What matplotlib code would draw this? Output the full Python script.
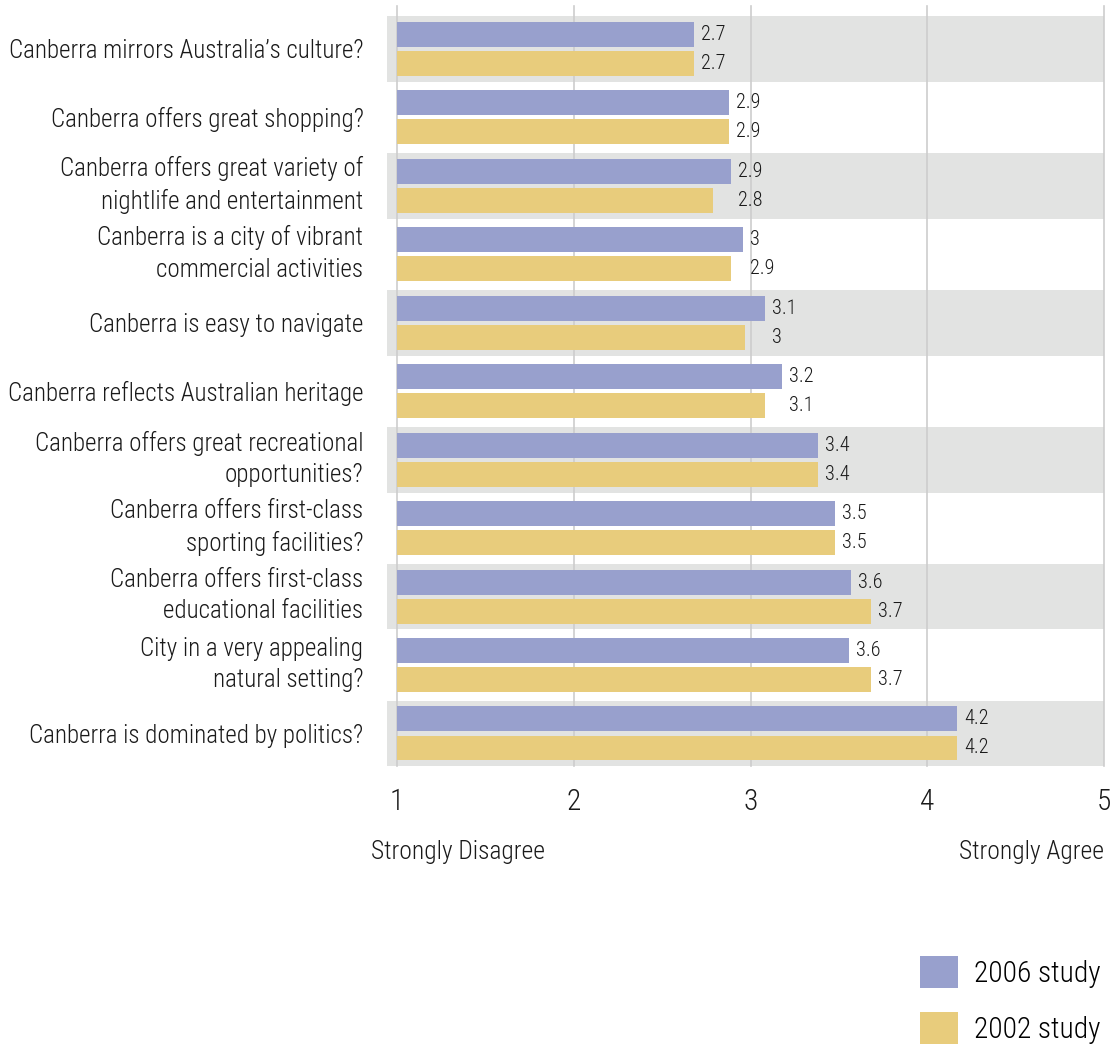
import numpy as np
import matplotlib
matplotlib.use("Agg")
import matplotlib.pyplot as plt
from matplotlib.patches import Patch
from matplotlib.transforms import ScaledTranslation
import matplotlib.font_manager as fm

# 优先使用窄体字体
_installed = {f.name for f in fm.fontManager.ttflist}
_fams = [f for f in ['Liberation Sans Narrow', 'Roboto Condensed', 'DejaVu Sans'] if f in _installed]
plt.rcParams['font.family'] = _fams
plt.rcParams['font.stretch'] = 'condensed'
plt.rcParams['font.weight'] = 'light'

# 数据
questions = [
    "Canberra mirrors Australia\u2019s culture?",
    "Canberra offers great shopping?",
    "Canberra offers great variety of\nnightlife and entertainment",
    "Canberra is a city of vibrant\ncommercial activities",
    "Canberra is easy to navigate",
    "Canberra reflects Australian heritage",
    "Canberra offers great recreational\nopportunities?",
    "Canberra offers first-class\nsporting facilities?",
    "Canberra offers first-class\neducational facilities",
    "City in a very appealing\nnatural setting?",
    "Canberra is dominated by politics?",
]
study_2006 = [2.68, 2.88, 2.89, 2.96, 3.08, 3.18, 3.38, 3.48, 3.57, 3.56, 4.17]
study_2002 = [2.68, 2.88, 2.79, 2.89, 2.97, 3.08, 3.38, 3.48, 3.68, 3.68, 4.17]
scale_ticks = [1, 2, 3, 4, 5]
series_names = ["2006 study", "2002 study"]

BLUE = '#98a0cd'
YELLOW = '#e8cc7c'
BAND = '#e2e3e2'
GRID = '#cdcdcd'
TEXT = '#1a1a1a'


def fmt(v):
    return f"{v:.1f}".rstrip('0').rstrip('.')


fig = plt.figure(figsize=(11.13, 10.54), dpi=100)


def fit_size(s, px, base=20.0):
    """按目标像素宽度换算字号"""
    t = fig.text(0, 0, s, fontsize=base)
    w = t.get_window_extent(renderer=fig.canvas.get_renderer()).width
    t.remove()
    return base * px / w


fs_cat = fit_size(questions[0], 353)
fs_val = fit_size("2.7", 22) * 1.12
fs_axis = fit_size("Strongly Disagree", 174)
fs_leg = fit_size(series_names[0], 127)

ax = fig.add_axes([387 / 1113, 1 - 766 / 1054, (1104 - 387) / 1113, (766 - 6) / 1054])

y = np.arange(len(questions))
h = 0.365
off = 0.212

# 交替灰色背景
for i in y[::2]:
    ax.axhspan(i - 0.48, i + 0.48, color=BAND, lw=0, zorder=0)

ax.barh(y - off, np.array(study_2006) - 1, left=1, height=h, color=BLUE, zorder=2)
ax.barh(y + off, np.array(study_2002) - 1, left=1, height=h, color=YELLOW, zorder=2)

# 数值标签
for i in y:
    a, b = study_2006[i], study_2002[i]
    ax.annotate(fmt(a), (a, i - off), xytext=(5, 0), textcoords='offset points',
                va='center', ha='left', fontsize=fs_val, color=TEXT)
    ax.annotate(fmt(b), (max(a, b), i + off), xytext=(5, 0), textcoords='offset points',
                va='center', ha='left', fontsize=fs_val, color=TEXT)

ax.set_xlim(1 - 10 / 176.75, 5)
ax.set_ylim(10.475, -0.628)
ax.set_xticks(scale_ticks)
ax.set_xticklabels([str(t) for t in scale_ticks])
ax.set_yticks(y)
ax.set_yticklabels(questions, fontsize=fs_cat, color=TEXT, linespacing=1.38)
ax.tick_params(axis='y', length=0, pad=17)
ax.tick_params(axis='x', length=0, pad=16, labelsize=fs_axis * 1.15, colors=TEXT)
for s in ax.spines.values():
    s.set_visible(False)
ax.xaxis.grid(True, color=GRID, lw=1.2, zorder=1)
for gl in ax.get_xgridlines():
    gl.set_clip_on(False)
ax.set_axisbelow(True)

# 两行标签略微上移
for lbl in ax.get_yticklabels():
    if '\n' in lbl.get_text():
        lbl.set_transform(lbl.get_transform() + ScaledTranslation(0, 5 / 72, fig.dpi_scale_trans))

fig.text(371 / 1113, 1 - 852 / 1054, "Strongly Disagree", ha='left', va='center',
         fontsize=fs_axis, color=TEXT)
fig.text(1104 / 1113, 1 - 852 / 1054, "Strongly Agree", ha='right', va='center',
         fontsize=fs_axis, color=TEXT)

handles = [Patch(facecolor=BLUE, edgecolor='none'), Patch(facecolor=YELLOW, edgecolor='none')]
sq = 38 / (fs_leg * 100 / 72)
fig.legend(handles, series_names, loc='upper left',
           bbox_to_anchor=(920 / 1113, 1 - 956 / 1054), borderaxespad=0, borderpad=0,
           frameon=False, fontsize=fs_leg, handlelength=sq, handleheight=sq,
           handletextpad=16 / (fs_leg * 100 / 72), labelspacing=24 / (fs_leg * 100 / 72))

fig.savefig("out.png", dpi=100)
